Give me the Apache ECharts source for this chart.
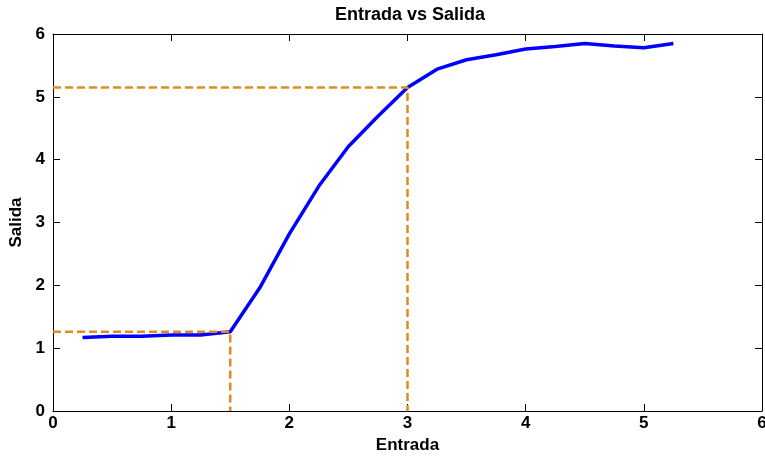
<!DOCTYPE html>
<html>
<head>
<meta charset="utf-8">
<script src="https://cdn.jsdelivr.net/npm/echarts@6/dist/echarts.min.js"></script>
<style>
  html, body { margin: 0; padding: 0; background: #fff; }
  #chart { width: 765px; height: 456px; }
</style>
</head>
<body>
<div id="chart"></div>
<script>
// Input values (Entrada) and measured response (Salida)
const entrada = [0.25, 0.5, 0.75, 1.0, 1.25, 1.5, 1.75, 2.0, 2.25, 2.5, 2.75,
                 3.0, 3.25, 3.5, 3.75, 4.0, 4.25, 4.5, 4.75, 5.0, 5.25];
const salida  = [1.17, 1.19, 1.19, 1.21, 1.21, 1.26, 1.96, 2.82, 3.58, 4.21, 4.69,
                 5.15, 5.44, 5.59, 5.67, 5.76, 5.80, 5.85, 5.81, 5.78, 5.85];

// Reference guides: lower and upper operating points
const guideLow  = { x: 1.5, y: 1.26 };
const guideHigh = { x: 3.0, y: 5.15 };

const xTicks = [0, 1, 2, 3, 4, 5, 6];
const yTicks = [0, 1, 2, 3, 4, 5, 6];

const FONT = '"Liberation Sans", Arial, sans-serif';
const ORANGE = '#E38A1C';

function guidePath(p) {
  return [[0, p.y], [p.x, p.y], [p.x, 0]];
}

const chart = echarts.init(document.getElementById('chart'), null, { renderer: 'canvas' });

const axisLine = { show: true, onZero: false, lineStyle: { color: '#000', width: 1 } };
const tickIn = { show: true, inside: true, length: 7, lineStyle: { color: '#000' } };
const labelStyle = { color: '#000', fontFamily: FONT, fontWeight: 'bold', fontSize: 17 };

chart.setOption({
  animation: false,
  backgroundColor: '#fff',
  title: {
    text: 'Entrada vs Salida',
    left: 405, top: 1, textAlign: 'center',
    textStyle: { fontFamily: FONT, fontWeight: 'bold', fontSize: 18, color: '#000' }
  },
  grid: { left: 53, right: 3, top: 34, bottom: 45, outerBoundsMode: 'none', containLabel: false },
  xAxis: [
    {
      type: 'value', min: xTicks[0], max: xTicks[xTicks.length - 1], interval: 1,
      position: 'bottom',
      name: 'Entrada', nameLocation: 'middle', nameGap: 22,
      nameTextStyle: labelStyle,
      axisLine, axisTick: tickIn, splitLine: { show: false },
      axisLabel: Object.assign({ margin: 4, hideOverlap: false }, labelStyle)
    },
    {
      type: 'value', min: xTicks[0], max: xTicks[xTicks.length - 1], interval: 1,
      position: 'top',
      axisLine, axisTick: tickIn, splitLine: { show: false },
      axisLabel: { show: false }
    }
  ],
  yAxis: [
    {
      type: 'value', min: yTicks[0], max: yTicks[yTicks.length - 1], interval: 1,
      position: 'left',
      name: 'Salida', nameLocation: 'middle', nameGap: 23, nameRotate: 90,
      nameTextStyle: labelStyle,
      axisLine, axisTick: tickIn, splitLine: { show: false },
      axisLabel: Object.assign({ margin: 8 }, labelStyle)
    },
    {
      type: 'value', min: yTicks[0], max: yTicks[yTicks.length - 1], interval: 1,
      position: 'right',
      axisLine, axisTick: tickIn, splitLine: { show: false },
      axisLabel: { show: false }
    }
  ],
  series: [
    {
      type: 'line',
      data: guidePath(guideLow),
      showSymbol: false,
      lineStyle: { color: ORANGE, width: 2.5, type: [8, 4] },
      z: 3
    },
    {
      type: 'line',
      data: guidePath(guideHigh),
      showSymbol: false,
      lineStyle: { color: ORANGE, width: 2.5, type: [8, 4] },
      z: 3
    },
    {
      type: 'line',
      data: entrada.map((x, i) => [x, salida[i]]),
      showSymbol: false,
      lineStyle: { color: '#0000FF', width: 3.5 },
      z: 2
    }
  ]
});
</script>
</body>
</html>
